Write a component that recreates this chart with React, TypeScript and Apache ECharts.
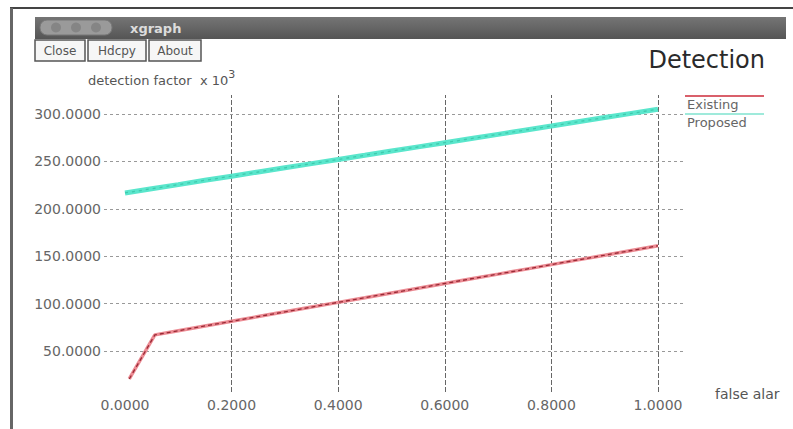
import React, { useEffect, useRef } from "react";
import * as echarts from "echarts";

// ---- data ----
const existingX = [0.008, 0.056, 0.1, 0.15, 0.2, 0.25, 0.3, 0.35, 0.4, 0.45, 0.5, 0.55, 0.6, 0.65, 0.7, 0.75, 0.8, 0.85, 0.9, 0.95, 1.0];
const existingY = [20.5, 67, 71.4, 76.4, 81.3, 86.3, 91.3, 96.3, 101.3, 106.2, 111.2, 116.2, 121.2, 126.2, 131.1, 136.1, 141.1, 146.1, 151.0, 156.0, 161.0];
const proposedX = [0, 0.05, 0.1, 0.15, 0.2, 0.25, 0.3, 0.35, 0.4, 0.45, 0.5, 0.55, 0.6, 0.65, 0.7, 0.75, 0.8, 0.85, 0.9, 0.95, 1.0];
const proposedY = [216.7, 221.1, 225.5, 230.0, 234.4, 238.8, 243.2, 247.6, 252.0, 256.4, 260.9, 265.3, 269.7, 274.1, 278.5, 282.9, 287.3, 291.8, 296.2, 300.6, 305.0];
const xTickValues = [0, 0.2, 0.4, 0.6, 0.8, 1.0];
const yTickValues = [50, 100, 150, 200, 250, 300];
const seriesNames = ["Existing", "Proposed"];
const chartTitle = "Detection";
const yAxisTitle = "detection factor  x 10";
const yAxisExponent = "3";
const xAxisTitle = "false alar";
const windowTitle = "xgraph";
const buttonLabels = ["Close", "Hdcpy", "About"];

const FONT = "DejaVu Sans";

export default function App() {
  const ref = useRef<HTMLDivElement>(null);
  useEffect(() => {
    if (!ref.current) return;
    const chart = echarts.init(ref.current, undefined, { renderer: "svg" });
    const existingData = existingX.map((x, i) => [x, existingY[i]]);
    const proposedData = proposedX.map((x, i) => [x, proposedY[i]]);

    const vLines = xTickValues
      .filter((v) => v > 0)
      .map((v) => ({ xAxis: v, lineStyle: { color: "#666", type: [5, 2], width: 1 } }));
    const hLines = yTickValues.map((v) => ({
      yAxis: v,
      lineStyle: { color: "#999", type: [3, 3], width: 1 },
    }));

    const btnX = [35, 88, 149];
    const btnW = [50, 58, 52];
    const buttons: any[] = [];
    buttonLabels.forEach((b, i) => {
      buttons.push({
        type: "rect",
        shape: { x: btnX[i], y: 40, width: btnW[i], height: 21 },
        style: { fill: "#f6f6f6", stroke: "#555", lineWidth: 1.5 },
      });
      buttons.push({
        type: "text",
        x: btnX[i] + btnW[i] / 2,
        y: 51,
        style: { text: b, fontFamily: FONT, fontSize: 12, fill: "#555", align: "center", verticalAlign: "middle" },
      });
    });

    chart.setOption({
      animation: false,
      backgroundColor: "#ffffff",
      grid: { left: 104, right: 108, top: 95, bottom: 37, containLabel: false },
      xAxis: {
        type: "value",
        min: -0.0394,
        max: 1.0507,
        axisLine: { show: false },
        axisTick: { show: false },
        splitLine: { show: false },
        axisLabel: {
          customValues: xTickValues,
          formatter: (v: number) => v.toFixed(4),
          fontFamily: FONT,
          fontSize: 14,
          color: "#666",
          margin: 6,
        },
      },
      yAxis: {
        type: "value",
        min: 6.75,
        max: 320,
        axisLine: { show: false },
        axisTick: { show: false },
        splitLine: { show: false },
        axisLabel: {
          customValues: yTickValues,
          formatter: (v: number) => v.toFixed(4),
          fontFamily: FONT,
          fontSize: 14,
          color: "#666",
          margin: 3,
        },
      },
      series: [
        {
          type: "line",
          name: "grid",
          data: existingData,
          showSymbol: false,
          silent: true,
          z: 1,
          lineStyle: { opacity: 0 },
          markLine: {
            silent: true,
            symbol: ["none", "none"],
            label: { show: false },
            z: 1,
            data: [...vLines, ...hLines],
          },
        },
        {
          type: "line",
          name: seriesNames[0],
          data: existingData,
          showSymbol: false,
          z: 3,
          lineStyle: { color: "#ec8c94", width: 3.5 },
        },
        {
          type: "line",
          name: seriesNames[0],
          data: existingData,
          showSymbol: false,
          z: 4,
          lineStyle: { color: "#9a2a36", width: 1.3, type: [4, 3] },
        },
        {
          type: "line",
          name: seriesNames[1],
          data: proposedData,
          showSymbol: false,
          z: 3,
          lineStyle: { color: "#5ae6cc", width: 5 },
        },
        {
          type: "line",
          name: seriesNames[1],
          data: proposedData,
          showSymbol: false,
          z: 4,
          lineStyle: { color: "#2cb898", width: 1.3, type: [3, 4], opacity: 0.6 },
        },
      ],
      graphic: [
        // window frame
        { type: "line", shape: { x1: 10, y1: 8, x2: 793, y2: 8 }, style: { stroke: "#444", lineWidth: 2 } },
        { type: "line", shape: { x1: 11.5, y1: 8, x2: 11.5, y2: 429 }, style: { stroke: "#666", lineWidth: 3 } },
        // title bar
        {
          type: "rect",
          shape: { x: 35, y: 17, width: 751, height: 22 },
          style: {
            fill: new echarts.graphic.LinearGradient(0, 0, 0, 1, [
              { offset: 0, color: "#757575" },
              { offset: 1, color: "#555555" },
            ]),
          },
        },
        { type: "rect", shape: { x: 40, y: 20, width: 72, height: 15, r: 7 }, style: { fill: "#9a9a9a", stroke: "#777", lineWidth: 1 } },
        { type: "circle", shape: { cx: 56, cy: 27.5, r: 5 }, style: { fill: "#858585" } },
        { type: "circle", shape: { cx: 76, cy: 27.5, r: 5 }, style: { fill: "#858585" } },
        { type: "circle", shape: { cx: 96, cy: 27.5, r: 5 }, style: { fill: "#858585" } },
        {
          type: "text",
          x: 130,
          y: 28,
          style: { text: windowTitle, fontFamily: FONT, fontSize: 13, fontWeight: "bold", fill: "#dcdcdc", verticalAlign: "middle" },
        },
        ...buttons,
        // chart title
        {
          type: "text",
          x: 765,
          y: 60,
          style: { text: chartTitle, fontFamily: FONT, fontSize: 24, fill: "#2a2a2a", align: "right", verticalAlign: "middle" },
        },
        // y axis title
        {
          type: "text",
          x: 88,
          y: 69,
          style: {
            text: `{a|${yAxisTitle}}{s|${yAxisExponent}}`,
            fontFamily: FONT,
            rich: {
              a: { fontFamily: FONT, fontSize: 13, fill: "#555", lineHeight: 18, verticalAlign: "bottom" },
              s: { fontFamily: FONT, fontSize: 11, fill: "#555", verticalAlign: "top" },
            },
          },
        },
        // x axis title
        {
          type: "text",
          x: 715,
          y: 394,
          style: { text: xAxisTitle, fontFamily: FONT, fontSize: 14, fill: "#555", verticalAlign: "middle" },
        },
        // legend
        { type: "line", shape: { x1: 685, y1: 96, x2: 764, y2: 96 }, style: { stroke: "#d9606b", lineWidth: 2 } },
        {
          type: "text",
          x: 687,
          y: 104,
          style: { text: seriesNames[0], fontFamily: FONT, fontSize: 13, fill: "#666", verticalAlign: "middle" },
        },
        { type: "line", shape: { x1: 685, y1: 114, x2: 764, y2: 114 }, style: { stroke: "#9feadb", lineWidth: 2 } },
        {
          type: "text",
          x: 687,
          y: 122,
          style: { text: seriesNames[1], fontFamily: FONT, fontSize: 13, fill: "#666", verticalAlign: "middle" },
        },
      ],
    });
    return () => chart.dispose();
  }, []);
  return (
    <div
      ref={ref}
      style={{ position: "fixed", left: 0, top: 0, width: 793, height: 429, background: "#fff" }}
    />
  );
}
